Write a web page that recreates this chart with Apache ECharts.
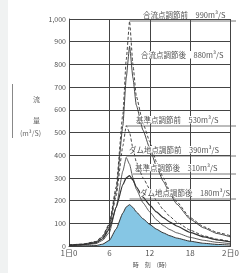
<!DOCTYPE html>
<html><head><meta charset="utf-8">
<script src="https://cdn.jsdelivr.net/npm/echarts@6/dist/echarts.min.js"></script>
<style>html,body{margin:0;padding:0;background:#fff}#c{width:242px;height:273px}</style>
</head><body><div id="c"></div>
<script>
const hours = [0,2,4,5,6,7,8,8.5,9,9.5,10,11,12,13,14,15,16,18,20,22,24];
const xTickLabels = {0:'1日0',6:'6',12:'12',18:'18',24:'2日0'};
const goryuMae  = [5,8,20,45,100,260,580,820,990,800,660,540,460,370,300,240,195,125,85,60,45];
const goryuGo   = [5,8,18,40,95,240,530,740,880,740,620,510,430,350,285,230,185,118,80,55,40];
const kijunMae  = [3,6,15,35,85,220,440,530,500,430,370,300,250,200,160,130,105,70,45,30,20];
const kijunGo   = [3,6,14,32,75,170,270,300,310,290,260,215,180,150,125,105,88,60,40,27,18];
const damMae    = [2,4,10,25,60,170,330,390,360,300,250,190,150,115,90,72,58,38,25,16,10];
const damGo     = [0,0,2,8,25,75,145,172,182,170,150,120,95,74,58,45,35,21,12,7,4];
const labels = [
  {text:'合流点調節前　990m³/S', peakH:9,   peakV:990},
  {text:'合流点調節後　880m³/S', peakH:null, peakV:880},
  {text:'基準点調節前　530m³/S', peakH:8.5, peakV:530},
  {text:'ダム地点調節前　390m³/S', peakH:8.5, peakV:390},
  {text:'基準点調節後　310m³/S', peakH:9.5, peakV:290},
  {text:'ダム地点調節後　180m³/S', peakH:9,   peakV:180}
];
const labelY = [17, 57, 122, 152, 170, 195];
const labelX = [143, 141, 136, 129, 135, 140];

const pair = arr => hours.map((h,i)=>[h,arr[i]]);
const chart = echarts.init(document.getElementById('c'));
const font = '"Noto Sans CJK JP", "Noto Sans", sans-serif';
const lineS = (name, arr, type, w) => ({
  name, type:'line', data:pair(arr), smooth:0.15, smoothMonotone:'x', symbol:'none',
  lineStyle:{color:'#333', width:w, type:type}, z:3
});
const series = [
  Object.assign(lineS('ダム地点調節後', damGo, 'solid', 1), {areaStyle:{color:'#86c6e4', opacity:1}, z:2}),
  lineS('ダム地点調節前', damMae, 'solid', 0.8),
  lineS('基準点調節後', kijunGo, 'solid', 1.2),
  lineS('基準点調節前', kijunMae, [3,2], 0.9),
  lineS('合流点調節後', goryuGo, 'solid', 0.9),
  lineS('合流点調節前', goryuMae, [3,2], 0.9)
];
chart.setOption({
  animation:false,
  backgroundColor:'#fff',
  grid:{left:69, right:10, top:19, bottom:25},
  xAxis:{type:'value', min:0, max:24, interval:6,
    axisLine:{lineStyle:{color:'#444'}}, axisTick:{show:false},
    splitLine:{show:true, lineStyle:{color:'#444', width:1}},
    axisLabel:{color:'#555', fontSize:8, fontFamily:font, margin:3, formatter:v=>xTickLabels[v]||''},
    name:'時　刻　(時)', nameLocation:'middle', nameGap:16,
    nameTextStyle:{color:'#555', fontSize:6, fontFamily:font}},
  yAxis:{type:'value', min:0, max:1000, interval:100,
    axisLine:{show:true, lineStyle:{color:'#444'}}, axisTick:{show:false},
    splitLine:{lineStyle:{color:'#444', width:1}},
    axisLabel:{color:'#555', fontSize:7, fontFamily:font, margin:3,
      formatter:v=>v>=1000?String(v).replace(/(\d)(\d{3})$/,'$1,$2'):String(v)}},
  series
});
const g = [];
labels.forEach((l,i)=>{
  g.push({type:'text', left:labelX[i], top:labelY[i]-6, z:10,
    style:{text:l.text, fill:'#555', font:'7.5px '+font, backgroundColor:'#fff'}});
  if(l.peakH!==null){
    const p = chart.convertToPixel({gridIndex:0},[l.peakH,l.peakV]);
    g.push({type:'line', z:10, shape:{x1:p[0], y1:labelY[i]+4, x2:236, y2:labelY[i]+4},
      style:{stroke:'#555', lineWidth:0.8}});
  }
});
g.push({type:'text', left:33, top:96, style:{text:'流', fill:'#666', font:'7px '+font}});
g.push({type:'text', left:33, top:117, style:{text:'量', fill:'#666', font:'7px '+font}});
g.push({type:'text', left:20, top:130, style:{text:'(m³/S)', fill:'#666', font:'7px '+font}});
g.push({type:'line', shape:{x1:12.5,y1:84,x2:12.5,y2:138}, style:{stroke:'#888', lineWidth:1}});
g.push({type:'rect', shape:{x:0,y:0,width:8,height:273}, style:{fill:'#f0f2f2'}, z:-1});
chart.setOption({graphic:g});
</script></body></html>
